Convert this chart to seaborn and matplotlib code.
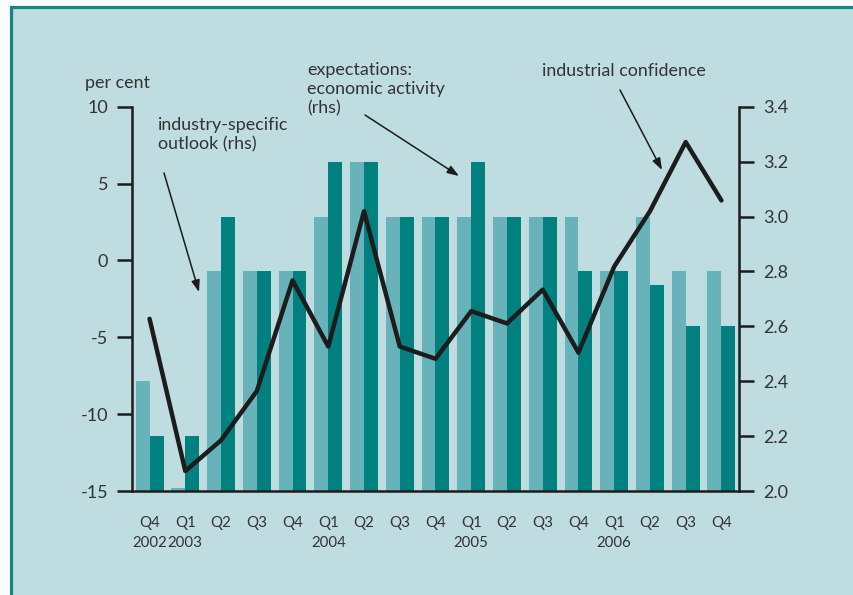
import numpy as np
import pandas as pd
import matplotlib
matplotlib.use("Agg")
import matplotlib.pyplot as plt
from matplotlib.patches import Rectangle
import seaborn as sns

# quarters Q4 2002 .. Q4 2006
quarters = ["Q4\n2002", "Q1\n2003", "Q2", "Q3", "Q4", "Q1\n2004", "Q2", "Q3", "Q4",
            "Q1\n2005", "Q2", "Q3", "Q4", "Q1\n2006", "Q2", "Q3", "Q4"]
# bars, right hand scale
outlook = [2.40, 2.01, 2.80, 2.80, 2.80, 3.00, 3.20, 3.00, 3.00,
           3.00, 3.00, 3.00, 3.00, 2.80, 3.00, 2.80, 2.80]
expectations = [2.20, 2.20, 3.00, 2.80, 2.80, 3.20, 3.20, 3.00, 3.00,
                3.20, 3.00, 3.00, 2.80, 2.80, 2.75, 2.60, 2.60]
# line, left hand scale (per cent)
confidence = [-3.8, -13.7, -11.7, -8.5, -1.3, -5.6, 3.2, -5.6, -6.4,
              -3.3, -4.1, -1.9, -6.0, -0.4, 3.2, 7.7, 3.9]

BG = "#bfdce0"
LIGHT = "#68b3b9"
DARK = "#00807f"
TXT = "#333333"

sns.set_style("white")
plt.rcParams["font.family"] = ["Lato", "DejaVu Sans"]

W, H = 854, 595
fig = plt.figure(figsize=(W / 100, H / 100), dpi=100, facecolor="white")
fig.patches.append(Rectangle((11.5 / W, -0.05), 1.2, 1.05 - 6.5 / H,
                             transform=fig.transFigure, facecolor=BG,
                             edgecolor="#178585", linewidth=2.3, zorder=-5))

ax = fig.add_axes([131.7 / W, 1 - 491 / H, (739.3 - 131.7) / W, (491 - 106.7) / H])
ax2 = ax.twinx()

n = len(quarters)
ids = [f"{i:02d}" for i in range(n)]
df = pd.DataFrame({
    "q": ids * 2,
    "series": ["industry-specific outlook"] * n + ["expectations: economic activity"] * n,
    "value": outlook + expectations,
})
sns.barplot(data=df, x="q", y="value", hue="series", order=ids, ax=ax2,
            palette=[LIGHT, DARK], width=0.78, saturation=1, legend=False,
            linewidth=0, edgecolor="none")

sns.lineplot(x=np.arange(n), y=confidence, ax=ax, color="#1c1c1c", linewidth=3.2)

ax.set_zorder(ax2.get_zorder() + 1)
ax.patch.set_visible(False)
ax2.patch.set_visible(False)

ax.set_xlim(-0.5, n - 0.5)
ax2.set_xlim(-0.5, n - 0.5)
ax.set_ylim(-15, 10)
ax2.set_ylim(2.0, 3.4)
ax.set_yticks([-15, -10, -5, 0, 5, 10])
ax.set_yticklabels(["-15", "-10", "-5", "0", "5", "10"])
ax2.set_yticks([2.0, 2.2, 2.4, 2.6, 2.8, 3.0, 3.2, 3.4])
ax2.set_yticklabels(["2.0", "2.2", "2.4", "2.6", "2.8", "3.0", "3.2", "3.4"])
ax2.set_ylabel("")
ax2.set_xlabel("")

ax.set_xticks(np.arange(n))
ax.set_xticklabels(quarters, fontsize=10.8, color=TXT, linespacing=1.55)
ax.set_xticks(np.arange(n + 1) - 0.5, minor=True)
ax.tick_params(axis="x", which="major", length=0, pad=18)
ax.tick_params(axis="x", which="minor", direction="out", length=7, width=1.6, color="#1c1c1c")
ax.tick_params(axis="y", direction="out", length=11, width=1.8, color="#1c1c1c",
               labelsize=13, labelcolor=TXT, pad=6)
ax2.tick_params(axis="y", direction="out", length=11, width=1.8, color="#1c1c1c",
                labelsize=13, labelcolor=TXT, pad=6)
ax2.tick_params(axis="x", which="both", length=0, labelbottom=False)

for a in (ax, ax2):
    a.spines["top"].set_visible(False)
    for s in ("left", "right", "bottom"):
        a.spines[s].set_color("#1c1c1c")
        a.spines[s].set_linewidth(1.8)
ax2.spines["left"].set_visible(False)
ax2.spines["bottom"].set_visible(False)
ax.spines["right"].set_visible(False)


def px(x, y):
    return x / W, 1 - y / H


fs = 12.9
fig.text(*px(85, 75), "per cent", fontsize=fs, color=TXT, va="top", ha="left")
fig.text(*px(158, 117), "industry-specific\noutlook (rhs)", fontsize=fs, color=TXT,
         va="top", ha="left", linespacing=1.25)
fig.text(*px(307, 62), "expectations:\neconomic activity\n(rhs)", fontsize=fs, color=TXT,
         va="top", ha="left", linespacing=1.25)
fig.text(*px(542, 63), "industrial confidence", fontsize=fs, color=TXT, va="top", ha="left")

arrows = [((164, 173), (199, 292)), ((365, 115), (459, 176)), ((620, 90), (662, 170))]
for (x0, y0), (x1, y1) in arrows:
    ax.annotate("", xy=px(x1, y1), xytext=px(x0, y0), xycoords="figure fraction",
                textcoords="figure fraction",
                arrowprops=dict(arrowstyle="-|>,head_length=0.7,head_width=0.25",
                                color="#1c1c1c", lw=1.1, shrinkA=0, shrinkB=0))

fig.savefig("out.png", dpi=100, facecolor="white")
